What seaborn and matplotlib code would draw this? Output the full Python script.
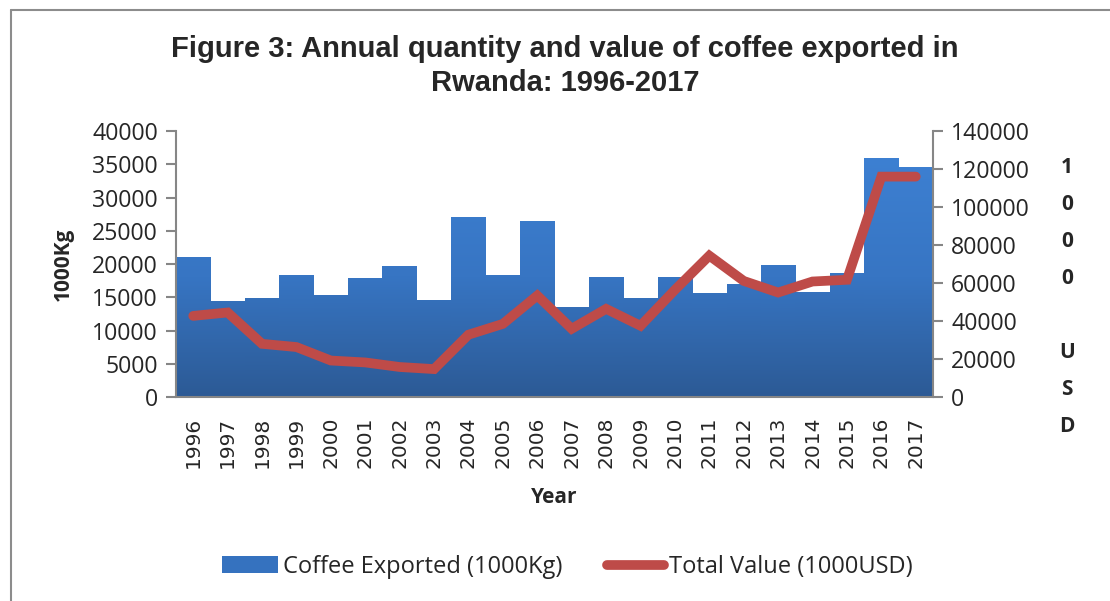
import matplotlib
matplotlib.use("Agg")
import matplotlib.pyplot as plt
import seaborn as sns
import numpy as np
import pandas as pd
from matplotlib.patches import Patch
from matplotlib.lines import Line2D
from matplotlib.colors import LinearSegmentedColormap

years = [str(y) for y in range(1996, 2018)]
quantity = [21000, 14400, 14900, 18300, 15400, 17900, 19700, 14600, 27100, 18300, 26400,
            13600, 18100, 14900, 18100, 15600, 17000, 19800, 15800, 18700, 36000, 34600]
value = [42700, 44500, 28000, 26300, 19200, 18200, 15800, 14700, 32800, 38500, 53400,
         35900, 46400, 37500, 56400, 74400, 61100, 55000, 60800, 61700, 116000, 116000]
left_ticks = [0, 5000, 10000, 15000, 20000, 25000, 30000, 35000, 40000]
right_ticks = [0, 20000, 40000, 60000, 80000, 100000, 120000, 140000]

df = pd.DataFrame({"Year": years, "Qty": quantity, "Value": value})

sns.set_theme(style="white")
plt.rcParams['font.family'] = ['Open Sans', 'DejaVu Sans']

fig = plt.figure(figsize=(11.10, 6.01), dpi=100)
ax = fig.add_axes([0.1586, 0.3394, 0.8405 - 0.1586, 0.782 - 0.3394])

bar_top = "#3D80D2"
bar_bot = "#2C5A95"
sns.barplot(data=df, x="Year", y="Qty", ax=ax, width=1.0, color="#3572BF",
            saturation=1, edgecolor="none")

cmap = LinearSegmentedColormap.from_list("g", [bar_bot, "#3775C3", bar_top])
grad = np.linspace(0, 1, 256).reshape(-1, 1)
for p in ax.patches:
    x0, y0 = p.get_x(), p.get_y()
    w, h = p.get_width(), p.get_height()
    im = ax.imshow(grad, cmap=cmap, origin="lower", aspect="auto",
                   extent=[x0, x0 + w, y0, y0 + 40000 * 0.9], zorder=2)
    im.set_clip_path(p)
    p.set_facecolor("none")
ax.set_xlim(-0.5, len(years) - 0.5)
ax.set_ylim(0, 40000)
ax.set_yticks(left_ticks)
ax.set_yticklabels([str(t) for t in left_ticks], fontsize=16.7)
ax.set_xticks(range(len(years)))
ax.set_xticklabels(years, rotation=90, fontsize=14.5, family="DejaVu Sans")
ax.tick_params(axis="y", which="major", left=True, length=7, width=1.5, color="#868686", pad=6)
ax.tick_params(axis="x", bottom=False, pad=8)
ax.set_xlabel("Year", fontsize=15, fontweight="bold", labelpad=14)
ax.set_ylabel("1000Kg", fontsize=15, fontweight="bold", labelpad=13)
for s in ["top", "right"]:
    ax.spines[s].set_visible(False)
for s in ["left", "bottom"]:
    ax.spines[s].set_color("#868686")
    ax.spines[s].set_linewidth(1.5)

ax2 = ax.twinx()
sns.lineplot(x=list(range(len(years))), y=value, ax=ax2, color="#BE4B48", linewidth=7,
             solid_capstyle="round", solid_joinstyle="miter", zorder=5)
ax2.set_ylim(0, 140000)
ax2.set_yticks(right_ticks)
ax2.set_yticklabels([str(t) for t in right_ticks], fontsize=16.7)
ax2.tick_params(axis="y", right=True, length=7, width=1.5, color="#868686", pad=6)
ax2.set_ylabel("")
for s in ["top", "left", "bottom"]:
    ax2.spines[s].set_visible(False)
ax2.spines["right"].set_color("#868686")
ax2.spines["right"].set_linewidth(1.5)

# right axis vertical label
fig.text(1067 / 1110, 1 - 297 / 601, "1\n0\n0\n0\n\nU\nS\nD", ha="center", va="center",
         fontsize=15, fontweight="bold", linespacing=2.0)

fig.suptitle("Figure 3: Annual quantity and value of coffee exported in\nRwanda: 1996-2017",
             x=565 / 1110, y=1 - 35 / 601, va="top", fontsize=21, fontweight="bold",
             family="Liberation Sans", linespacing=1.26)

handles = [Patch(facecolor="#3572BF", edgecolor="none"),
           Line2D([0], [0], color="#BE4B48", linewidth=7, solid_capstyle="round")]
fig.legend(handles, ["Coffee Exported (1000Kg)", "Total Value (1000USD)"],
           loc="center", bbox_to_anchor=(567 / 1110, 1 - 567 / 601), ncol=2, frameon=False,
           fontsize=17, handlelength=2.4, handletextpad=0.2, columnspacing=1.9)

# frame lines (top and left visible)
fig.add_artist(Line2D([11 / 1110, 11 / 1110], [0, 1 - 10 / 601], transform=fig.transFigure,
                      color="#8C8C8C", linewidth=1.5))
fig.add_artist(Line2D([11 / 1110, 1], [1 - 10 / 601, 1 - 10 / 601], transform=fig.transFigure,
                      color="#8C8C8C", linewidth=1.5))

fig.savefig("out.png", dpi=100)
